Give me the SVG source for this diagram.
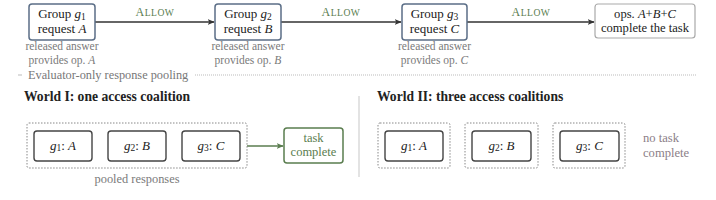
<svg xmlns="http://www.w3.org/2000/svg" width="716" height="200" viewBox="0 0 716 200" font-family="'Liberation Serif', 'DejaVu Serif', serif">
<style>
text, tspan{font-family:'Liberation Serif','DejaVu Serif',serif;}
.grp{fill:#fff;stroke:#5b6e87;stroke-width:1.5;}
.fin{fill:#fff;stroke:#a9a9a9;stroke-width:1.2;}
.inner{fill:#fff;stroke:#444;stroke-width:1.4;}
.pool{fill:none;stroke:#888;stroke-width:1;stroke-dasharray:1.5 1.5;}
.ok{fill:#fff;stroke:#5a7d4f;stroke-width:1.5;}
.t{font-size:13px;fill:#222;text-anchor:middle;}
.cap{font-size:11.5px;fill:#7a7a7a;text-anchor:middle;}
.allow{font-size:12px;fill:#5a7d4f;text-anchor:middle;letter-spacing:0.5px;}
.title{font-size:13.6px;font-weight:bold;fill:#222;}
.conn{stroke:#333;stroke-width:1.5;fill:none;}
.gconn{stroke:#5a7d4f;stroke-width:1.5;fill:none;}
</style>
<defs>
<marker id="ah" viewBox="0 0 10 10" refX="9" refY="5" markerWidth="7" markerHeight="7" orient="auto" markerUnits="userSpaceOnUse"><path d="M0,1 L10,5 L0,9 L2.5,5 Z" fill="#333"/></marker>
<marker id="gah" viewBox="0 0 10 10" refX="9" refY="5" markerWidth="7" markerHeight="7" orient="auto" markerUnits="userSpaceOnUse"><path d="M0,1 L10,5 L0,9 L2.5,5 Z" fill="#5a7d4f"/></marker>
</defs>

<g id="connectors">
<line class="conn" x1="95" y1="22" x2="214" y2="22" marker-end="url(#ah)"/>
<line class="conn" x1="281" y1="22" x2="401" y2="22" marker-end="url(#ah)"/>
<line class="conn" x1="467" y1="22" x2="594" y2="22" marker-end="url(#ah)"/>
<text class="allow" x="155" y="16">A<tspan font-size="9.6">LLOW</tspan></text>
<text class="allow" x="341" y="16">A<tspan font-size="9.6">LLOW</tspan></text>
<text class="allow" x="531" y="16">A<tspan font-size="9.6">LLOW</tspan></text>
<line class="gconn" x1="247" y1="146" x2="283" y2="146" marker-end="url(#gah)"/>
</g>

<g id="g1">
<rect class="grp" x="29" y="4" width="66" height="36" rx="3"/>
<text class="t" x="62" y="18">Group <tspan font-style="italic">g</tspan><tspan font-size="9.5" dy="2">1</tspan></text>
<text class="t" x="62" y="33">request <tspan font-style="italic">A</tspan></text>
<text class="cap" x="62" y="50">released answer</text>
<text class="cap" x="62" y="64">provides op. <tspan font-style="italic">A</tspan></text>
</g>
<g id="g2">
<rect class="grp" x="215" y="4" width="66" height="36" rx="3"/>
<text class="t" x="248" y="18">Group <tspan font-style="italic">g</tspan><tspan font-size="9.5" dy="2">2</tspan></text>
<text class="t" x="248" y="33">request <tspan font-style="italic">B</tspan></text>
<text class="cap" x="248" y="50">released answer</text>
<text class="cap" x="248" y="64">provides op. <tspan font-style="italic">B</tspan></text>
</g>
<g id="g3">
<rect class="grp" x="402" y="4" width="65" height="36" rx="3"/>
<text class="t" x="434.5" y="18">Group <tspan font-style="italic">g</tspan><tspan font-size="9.5" dy="2">3</tspan></text>
<text class="t" x="434.5" y="33">request <tspan font-style="italic">C</tspan></text>
<text class="cap" x="434.5" y="50">released answer</text>
<text class="cap" x="434.5" y="64">provides op. <tspan font-style="italic">C</tspan></text>
</g>
<g id="final">
<rect class="fin" x="595" y="4" width="100" height="34" rx="3"/>
<text class="t" x="645" y="18" style="font-size:12.6px">ops. <tspan font-style="italic">A</tspan>+<tspan font-style="italic">B</tspan>+<tspan font-style="italic">C</tspan></text>
<text class="t" x="645" y="32" style="font-size:12.6px">complete the task</text>
</g>

<g id="pooling-header">
<line x1="18" y1="75" x2="22" y2="75" stroke="#aaa" stroke-width="0.8"/>
<text x="28" y="79" font-size="12.3" fill="#777">Evaluator-only response pooling</text>
<line x1="195" y1="75" x2="697" y2="75" stroke="#aaa" stroke-width="0.8" stroke-dasharray="1 1"/>
</g>

<line x1="359" y1="96" x2="359" y2="177" stroke="#d0d0d0" stroke-width="1.2"/>

<g id="world1">
<text class="title" x="24" y="101">World I: one access coalition</text>
<rect class="pool" x="27" y="123" width="220" height="45" rx="2"/>
<rect class="inner" x="34" y="131" width="58" height="30" rx="3"/>
<text class="t" x="63" y="150"><tspan font-style="italic">g</tspan><tspan font-size="9.5" dy="1">1</tspan><tspan dy="-1">: </tspan><tspan font-style="italic">A</tspan></text>
<rect class="inner" x="108" y="131" width="58" height="30" rx="3"/>
<text class="t" x="137" y="150"><tspan font-style="italic">g</tspan><tspan font-size="9.5" dy="1">2</tspan><tspan dy="-1">: </tspan><tspan font-style="italic">B</tspan></text>
<rect class="inner" x="182" y="131" width="58" height="30" rx="3"/>
<text class="t" x="211" y="150"><tspan font-style="italic">g</tspan><tspan font-size="9.5" dy="1">3</tspan><tspan dy="-1">: </tspan><tspan font-style="italic">C</tspan></text>
<text class="cap" x="137" y="183" style="font-size:12.4px">pooled responses</text>
</g>
<g id="task-complete">
<rect class="ok" x="284" y="128" width="59" height="35" rx="3"/>
<text class="t" x="313.5" y="142" style="fill:#5a7d4f;font-size:12.5px">task</text>
<text class="t" x="313.5" y="156" style="fill:#5a7d4f;font-size:12.5px">complete</text>
</g>

<g id="world2">
<text class="title" x="377" y="101">World II: three access coalitions</text>
<rect class="pool" x="378" y="123" width="72" height="45" rx="2"/>
<rect class="inner" x="385" y="131" width="58" height="30" rx="3"/>
<text class="t" x="414" y="150"><tspan font-style="italic">g</tspan><tspan font-size="9.5" dy="1">1</tspan><tspan dy="-1">: </tspan><tspan font-style="italic">A</tspan></text>
<rect class="pool" x="465" y="123" width="73" height="45" rx="2"/>
<rect class="inner" x="472" y="131" width="59" height="30" rx="3"/>
<text class="t" x="501.5" y="150"><tspan font-style="italic">g</tspan><tspan font-size="9.5" dy="1">2</tspan><tspan dy="-1">: </tspan><tspan font-style="italic">B</tspan></text>
<rect class="pool" x="553" y="123" width="72" height="45" rx="2"/>
<rect class="inner" x="560" y="131" width="59" height="30" rx="3"/>
<text class="t" x="589.5" y="150"><tspan font-style="italic">g</tspan><tspan font-size="9.5" dy="1">3</tspan><tspan dy="-1">: </tspan><tspan font-style="italic">C</tspan></text>
<text x="643" y="142" font-size="12.6" fill="#8c7e88">no task</text>
<text x="643" y="157" font-size="12.6" fill="#8c7e88">complete</text>
</g>
</svg>
